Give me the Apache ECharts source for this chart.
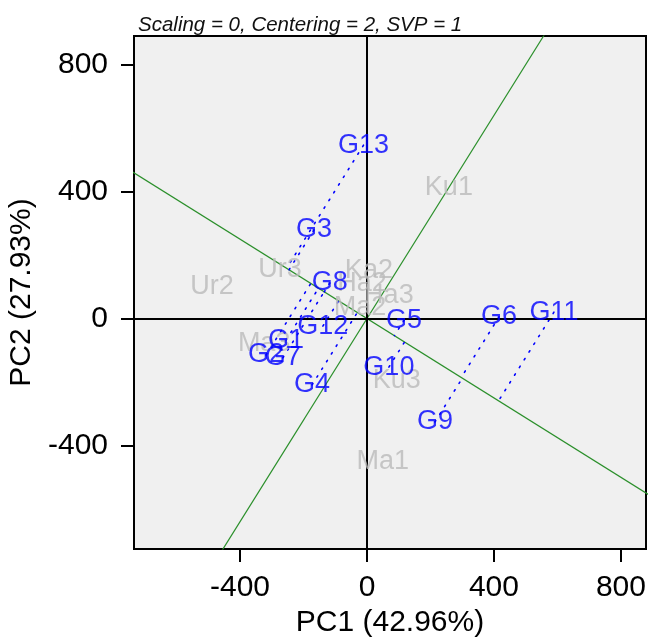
<!DOCTYPE html>
<html>
<head>
<meta charset="utf-8">
<script src="https://cdn.jsdelivr.net/npm/echarts@6/dist/echarts.min.js"></script>
<style>
  html, body { margin: 0; padding: 0; background: #ffffff; }
  #chart { width: 648px; height: 640px; }
</style>
</head>
<body>
<div id="chart"></div>
<script>
// GGE biplot, mean vs. stability view (PC1 / PC2 scores)
const genotypeNames = ['G1', 'G2', 'G3', 'G4', 'G5', 'G6', 'G7', 'G8', 'G9', 'G10', 'G11', 'G12', 'G13'];
const genotypePC1 = [-255, -318, -167, -173, 117, 416, -265, -117, 214, 69, 589, -139, -11];
const genotypePC2 = [-68, -115, 279, -209, -5, 5, -124, 112, -326, -153, 20, -24, 546];

const environmentNames = ['Ku1', 'Ku3', 'Ma1', 'Ma2', 'Ma3', 'Ur2', 'Ur3', 'Ka2', 'Ha2', 'Ha3'];
const environmentPC1 = [258, 94, 50, -22, -324, -488, -274, 6, -16, 69];
const environmentPC2 = [414, -194, -452, 36, -78, 102, 153, 150, 109, 71];

// average-environment coordinate defining the AEC abscissa
const averageEnvironment = [-160, 100];

const tickValues = [-400, 0, 400, 800];
const xRange = [-734, 879];
const yRange = [-726, 890];

const FONT = "'Liberation Sans', Arial, sans-serif";

// unit vector of the AEC abscissa and its perpendicular (AEC ordinate)
const len = Math.hypot(averageEnvironment[0], averageEnvironment[1]);
const u = [averageEnvironment[0] / len, averageEnvironment[1] / len];
const v = [-u[1], u[0]];
const far = 4000;

// projection of each genotype onto the AEC abscissa
const projectionLines = genotypeNames.map((name, i) => {
  const g = [genotypePC1[i], genotypePC2[i]];
  const t = g[0] * u[0] + g[1] * u[1];
  return [g, [t * u[0], t * u[1]]];
});

const series = [];

series.push({
  type: 'line', name: 'AEC abscissa', silent: true, symbol: 'none', clip: true, z: 2,
  data: [[-far * u[0], -far * u[1]], [far * u[0], far * u[1]]],
  lineStyle: { color: '#2a8f2a', width: 1.2 }
});
series.push({
  type: 'line', name: 'AEC ordinate', silent: true, symbol: 'none', clip: true, z: 2,
  data: [[-far * v[0], -far * v[1]], [far * v[0], far * v[1]]],
  lineStyle: { color: '#2a8f2a', width: 1.2 }
});
series.push({
  type: 'line', name: 'origin axes', silent: true, symbol: 'none', clip: true, z: 3,
  data: [],
  markLine: {
    silent: true, symbol: 'none', animation: false,
    label: { show: false },
    lineStyle: { color: '#000000', width: 2, type: 'solid' },
    emphasis: { disabled: true },
    data: [{ xAxis: 0 }, { yAxis: 0 }]
  }
});
projectionLines.forEach((seg, i) => {
  series.push({
    type: 'line', name: 'proj-' + genotypeNames[i], silent: true, symbol: 'none', clip: true, z: 4,
    data: seg,
    lineStyle: { color: '#0000ff', width: 1.6, type: [1.6, 7.5], cap: 'round' }
  });
});
series.push({
  type: 'scatter', name: 'Environments', silent: true, z: 5,
  symbol: 'circle', symbolSize: 1,
  itemStyle: { color: 'transparent' },
  label: {
    show: true, position: 'inside', formatter: p => p.name,
    color: '#bababa', fontSize: 27, fontFamily: FONT
  },
  data: environmentNames.map((n, i) => ({ name: n, value: [environmentPC1[i], environmentPC2[i]] }))
});
series.push({
  type: 'scatter', name: 'Genotypes', silent: true, z: 6,
  symbol: 'circle', symbolSize: 1,
  itemStyle: { color: 'transparent' },
  label: {
    show: true, position: 'inside', formatter: p => p.name,
    color: '#0000ff', fontSize: 27, fontFamily: FONT
  },
  data: genotypeNames.map((n, i) => ({ name: n, value: [genotypePC1[i], genotypePC2[i]] }))
});

const axisCommon = {
  type: 'value',
  nameLocation: 'middle',
  nameTextStyle: { fontSize: 30, color: '#000', fontFamily: FONT },
  axisLine: { show: true, onZero: false, lineStyle: { color: '#000', width: 2 } },
  axisTick: { show: true, length: 13, inside: false, customValues: tickValues, lineStyle: { color: '#000', width: 2 } },
  axisLabel: { customValues: tickValues, fontSize: 30, color: '#000', fontFamily: FONT },
  splitLine: { show: false }
};

const option = {
  animation: false,
  backgroundColor: '#ffffff',
  title: {
    text: 'Scaling = 0, Centering = 2, SVP = 1',
    left: 133, top: 10,
    textStyle: { fontSize: 20.5, fontStyle: 'italic', fontWeight: 'normal', color: '#111', fontFamily: FONT }
  },
  grid: {
    left: 134, right: 2, top: 36, bottom: 91,
    show: true, backgroundColor: '#f0f0f0', borderColor: '#000', borderWidth: 2,
    outerBoundsMode: 'none'
  },
  xAxis: Object.assign({}, axisCommon, {
    min: xRange[0], max: xRange[1],
    name: 'PC1 (42.96%)', nameGap: 59,
    axisLabel: Object.assign({}, axisCommon.axisLabel, { margin: 24 })
  }),
  yAxis: Object.assign({}, axisCommon, {
    min: yRange[0], max: yRange[1],
    name: 'PC2 (27.93%)', nameGap: 97,
    axisLabel: Object.assign({}, axisCommon.axisLabel, { margin: 26 })
  }),
  series: series
};

const chart = echarts.init(document.getElementById('chart'), null, { renderer: 'canvas' });
chart.setOption(option);
</script>
</body>
</html>
